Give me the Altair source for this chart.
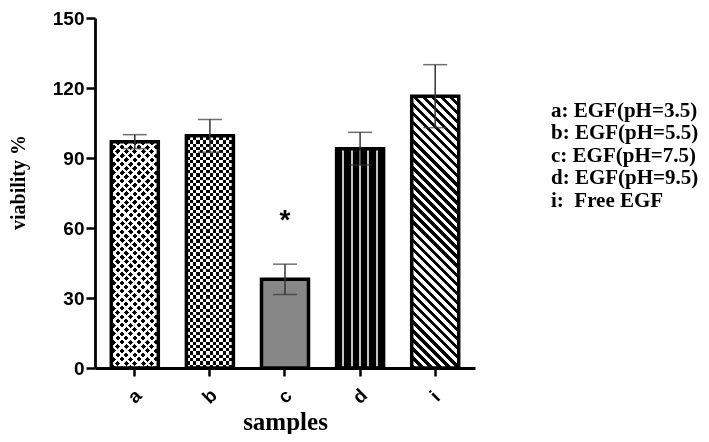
import math
import altair as alt
import pandas as pd

# ---- data ----
samples = ["a", "b", "c", "d", "i"]
viability = [97.0, 99.5, 38.0, 94.0, 116.5]
sd = [3.0, 7.0, 6.5, 7.0, 13.5]
legend_labels = ["a: EGF(pH=3.5)", "b: EGF(pH=5.5)", "c: EGF(pH=7.5)",
                 "d: EGF(pH=9.5)", "i:\u00a0 Free EGF"]
significance = ["", "", "*", "", ""]
y_ticks = [0, 30, 60, 90, 120, 150]

df = pd.DataFrame({"sample": samples, "viability": viability, "sd": sd,
                   "legend": legend_labels, "sig": significance})

PLOT_W, PLOT_H, Y_MAX = 380, 350, 150
PAD_TOP = 10
BAR_W = 47
SANS = "Liberation Sans, Arial"
SERIF = "Liberation Serif, Times New Roman"


def stripe_gradient(value, direction, period, duty, on, off):
    """Linear gradient (object bbox units) giving stripes of a pixel period."""
    w = BAR_W
    h = value / Y_MAX * PLOT_H
    dx, dy = direction
    n = math.hypot(dx, dy)
    dx, dy = dx / n, dy / n
    gx, gy = dy / h, -dx / w
    g = math.hypot(gx, gy)
    ux, uy = gx / g, gy / g
    corners = [(0, 0), (1, 0), (0, 1), (1, 1)]
    proj = [cx * ux + cy * uy for cx, cy in corners]
    lo = min(proj)
    rng = max(proj) - lo
    x1, y1 = corners[proj.index(lo)]
    x2, y2 = x1 + ux * rng, y1 + uy * rng
    length = w * abs(dy) + h * abs(dx)
    pt = period / length
    stops = []
    k = 0
    while k * pt < 1:
        s = k * pt
        e1 = min(s + duty * pt, 1.0)
        e2 = min(s + pt, 1.0)
        stops += [{"offset": round(s, 5), "color": on},
                  {"offset": round(e1, 5), "color": on},
                  {"offset": round(e1, 5), "color": off},
                  {"offset": round(e2, 5), "color": off}]
        k += 1
    return {"gradient": "linear", "x1": round(x1, 5), "y1": round(y1, 5),
            "x2": round(x2, 5), "y2": round(y2, 5), "stops": stops}


def line_gradient(n_lines, spacing, lw, base, line):
    w = BAR_W
    first = (w - (n_lines - 1) * spacing) / 2
    stops = [{"offset": 0, "color": base}]
    for j in range(n_lines):
        c = first + j * spacing
        a, b = (c - lw / 2) / w, (c + lw / 2) / w
        stops += [{"offset": round(a, 5), "color": base},
                  {"offset": round(a, 5), "color": line},
                  {"offset": round(b, 5), "color": line},
                  {"offset": round(b, 5), "color": base}]
    stops.append({"offset": 1, "color": base})
    return {"gradient": "linear", "x1": 0, "y1": 0, "x2": 1, "y2": 0, "stops": stops}


val = dict(zip(samples, viability))
TRANSP = "rgba(255,255,255,0)"

x_enc = alt.X("sample:N", sort=samples,
              scale=alt.Scale(paddingInner=0.34, paddingOuter=0.2),
              axis=alt.Axis(title="samples", labelAngle=-45, labelAlign="center",
                            labelBaseline="middle", labelPadding=20,
                            labelFont=SANS, labelFontSize=19, labelFontWeight="bold",
                            labelColor="black", tickSize=8, tickWidth=2.5,
                            tickColor="black", domainColor="black", domainWidth=2.8,
                            titleFont=SERIF, titleFontSize=25, titleFontWeight="bold",
                            titleColor="black", titleBaseline="alphabetic",
                            titleY=61, titleX=PLOT_W / 2))
y_enc = alt.Y("viability:Q",
              scale=alt.Scale(domain=[0, Y_MAX], nice=False),
              axis=alt.Axis(title="viability %", values=y_ticks, grid=False,
                            labelFont=SANS, labelFontSize=19, labelFontWeight="bold",
                            labelColor="black", labelPadding=2, tickSize=9,
                            tickWidth=2.5, tickColor="black", domainColor="black",
                            domainWidth=2.8, titleFont=SERIF, titleFontSize=20,
                            titleFontWeight="bold", titleColor="black",
                            titleAngle=-90, titleBaseline="alphabetic",
                            titleAlign="center", titleX=-71, titleY=164))

base = alt.Chart(df)


def bar(sample, fill, **kw):
    return base.transform_filter(alt.datum.sample == sample).mark_bar(
        width=BAR_W, fill=fill, strokeWidth=0, **kw).encode(x=x_enc, y=y_enc)


layers = [
    # a: black diamonds (crossing white diagonal bands)
    bar("a", stripe_gradient(val["a"], (1, -1), 6.0, 0.6, "black", "white")),
    bar("a", stripe_gradient(val["a"], (1, 1), 6.0, 0.6, TRANSP, "white")),
    # b: checkerboard
    bar("b", stripe_gradient(val["b"], (0, 1), 6.6, 0.5, "black", "white")),
    bar("b", stripe_gradient(val["b"], (1, 0), 6.6, 0.5, "white", TRANSP),
        blend="difference"),
    # c: gray
    bar("c", "#878787"),
    # d: black with light vertical lines
    bar("d", line_gradient(5, 8.33, 2.0, "black", "#c4c4c4")),
    # i: diagonal stripes
    bar("i", stripe_gradient(val["i"], (1, 1), 6.4, 0.5, "black", "white")),
]

outline = base.mark_bar(width=BAR_W, fill="white", fillOpacity=0, stroke="black",
                        strokeWidth=3.5).encode(x=x_enc, y=y_enc)

err = base.transform_calculate(lo="datum.viability - datum.sd",
                               hi="datum.viability + datum.sd")
err_rule = err.mark_rule(strokeWidth=1.5).encode(
    x=x_enc, y="lo:Q", y2="hi:Q",
    color=alt.Color("legend:N",
                    scale=alt.Scale(domain=legend_labels, range=["#333333"] * 5),
                    legend=alt.Legend(title=None, orient="none", legendX=435,
                                      legendY=82, symbolSize=0, symbolOpacity=0,
                                      symbolStrokeWidth=0, labelOffset=0, padding=0,
                                      rowPadding=0.5, labelFont=SERIF,
                                      labelFontSize=21, labelFontWeight="bold",
                                      labelColor="black", labelLimit=0)))
err_hi = err.mark_tick(size=24, thickness=1.5, color="#333333").encode(x=x_enc, y="hi:Q")
err_lo = err.mark_tick(size=24, thickness=1.5, color="#333333").encode(x=x_enc, y="lo:Q")

star = err.transform_filter(alt.datum.sig != "").mark_text(
    font="Liberation Sans", fontSize=28, fontWeight="bold", color="black",
    baseline="alphabetic", dy=-35).encode(x=x_enc, y="hi:Q", text="sig:N")

chart = alt.layer(*layers, outline, err_rule, err_hi, err_lo, star).properties(
    width=PLOT_W, height=PLOT_H,
    autosize=alt.AutoSizeParams(type="none"),
    padding={"left": 87, "top": PAD_TOP, "right": 226,
             "bottom": 426 - PAD_TOP - PLOT_H},
).configure_view(strokeWidth=0)

chart.save("out.html", embed_options={"renderer": "svg", "actions": False})
